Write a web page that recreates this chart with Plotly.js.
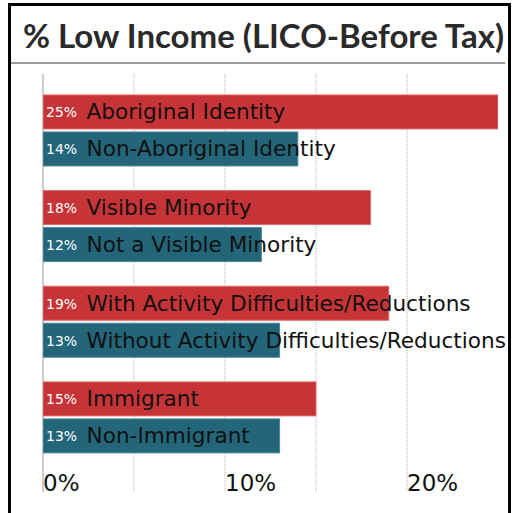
<!DOCTYPE html>
<html>
<head>
<meta charset="utf-8">
<script src="https://cdn.plot.ly/plotly-3.0.1.min.js"></script>
<style>html,body{margin:0;padding:0;background:#fff;}</style>
</head>
<body>
<div id="chart" style="width:516px;height:513px;"></div>
<script>
// ---- data ----
const groups = ["Aboriginal", "Visible Minority", "Activity Difficulties", "Immigrant"];
const redLabels = ["Aboriginal Identity", "Visible Minority", "With Activity Difficulties/Reductions", "Immigrant"];
const redValues = [25, 18, 19, 15];
const tealLabels = ["Non-Aboriginal Identity", "Not a Visible Minority", "Without Activity Difficulties/Reductions", "Non-Immigrant"];
const tealValues = [14, 12, 13, 13];
const titleText = "% Low Income (LICO-Before Tax)";

// ---- layout helpers ----
const W = 516, H = 513;
const M = {l: 43, r: 18, t: 74, b: 21};
const PW = W - M.l - M.r, PH = H - M.t - M.b;
const px = x => (x - M.l) / PW;
const py = y => (H - M.b - y) / PH;

function barText(vals, labels) {
  return vals.map((v, i) =>
    '<span style="font-size:14px;color:#ffffff;baseline-shift:2px">' + v + '%</span>' +
    '<span style="font-size:8px"> </span> ' + labels[i]);
}

const common = {
  type: 'bar', orientation: 'h', y: groups,
  textposition: 'inside', insidetextanchor: 'start', textangle: 0,
  constraintext: 'none', cliponaxis: false,
  insidetextfont: {family: 'DejaVu Sans', size: 21.6, color: '#111'},
  hoverinfo: 'skip'
};

const traces = [
  Object.assign({}, common, {
    x: redValues, text: barText(redValues, redLabels), texttemplate: '%{text}',
    marker: {color: '#c73437', line: {color: '#e06a6c', width: 1}}
  }),
  Object.assign({}, common, {
    x: tealValues, text: barText(tealValues, tealLabels), texttemplate: '%{text}',
    marker: {color: '#236579', line: {color: '#4d8598', width: 1}}
  })
];

const layout = {
  width: W, height: H,
  margin: M,
  paper_bgcolor: '#ffffff', plot_bgcolor: '#ffffff',
  showlegend: false,
  barmode: 'group', bargap: 0.2265, bargroupgap: 0.081,
  title: {
    text: titleText,
    font: {family: 'Lato', size: 33, color: '#2a2a2a', weight: 'bold'},
    xref: 'container', x: 263.5 / W, xanchor: 'center',
    yref: 'container', y: 1 - 36.5 / H, yanchor: 'middle'
  },
  xaxis: {
    range: [0, 25], dtick: 10, tick0: 0, ticksuffix: '%',
    ticklabelposition: 'inside right', ticks: '', ticklabelstandoff: -10,
    tickfont: {family: 'DejaVu Sans', size: 23, color: '#111'},
    showgrid: true, gridcolor: '#d8d8d8', gridwidth: 2, griddash: '1px,1px',
    minor: {dtick: 5, showgrid: true, gridcolor: '#d8d8d8', gridwidth: 2, griddash: '1px,1px'},
    zeroline: true, zerolinecolor: '#cccccc', zerolinewidth: 2,
    showline: false, fixedrange: true
  },
  yaxis: {
    type: 'category', range: [3.78, -0.59], showticklabels: false, ticks: '',
    showgrid: false, zeroline: false, showline: false, fixedrange: true
  },
  shapes: [
    {type: 'rect', xref: 'paper', yref: 'paper',
     x0: px(9.5), x1: px(509.5), y0: py(530), y1: py(4.5),
     line: {color: '#000000', width: 3}, fillcolor: 'rgba(0,0,0,0)'},
    {type: 'line', xref: 'paper', yref: 'paper',
     x0: px(11), x1: px(505), y0: py(63), y1: py(63),
     line: {color: '#7a7a7a', width: 1.5}}
  ]
};

Plotly.newPlot('chart', traces, layout, {displayModeBar: false, staticPlot: true});
</script>
</body>
</html>
